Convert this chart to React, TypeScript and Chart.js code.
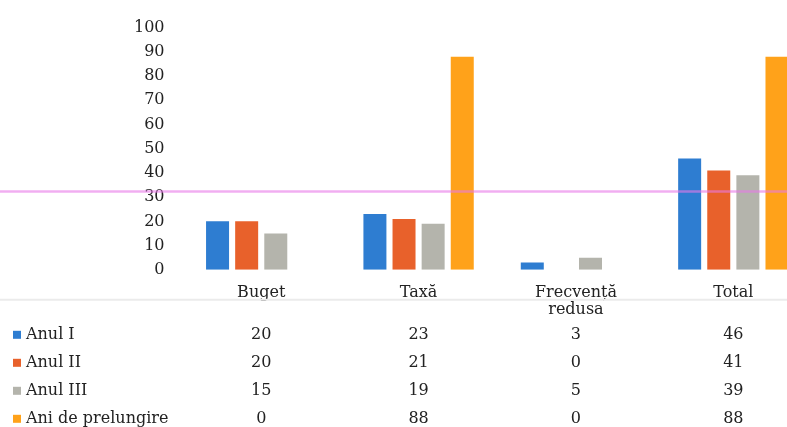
import React, { useEffect, useRef } from "react";
import { Chart, registerables } from "chart.js";

Chart.register(...registerables);

const categories: (string | string[])[] = ["Buget", "Taxă", ["Frecvență", "redusa"], "Total"];
const seriesNames = ["Anul I", "Anul II", "Anul III", "Ani de prelungire"];
const anulI = [20, 23, 3, 46];
const anulII = [20, 21, 0, 41];
const anulIII = [15, 19, 5, 39];
const aniPrelungire = [0, 88, 0, 88];
const seriesValues = [anulI, anulII, anulIII, aniPrelungire];
const seriesColors = ["#2E7DD1", "#E8612B", "#B4B4AC", "#FFA21A"];
const yMin = 0;
const yMax = 100;
const yStep = 10;
const scanLineValue = 32.3;

const FONT = '"DejaVu Serif", "Liberation Serif", serif';

const tablePlugin = {
  id: "dataTable",
  afterDatasetsDraw(chart: any) {
    const { ctx, scales } = chart;
    const y = scales.y;
    const ly = y.getPixelForValue(scanLineValue);
    ctx.save();
    ctx.strokeStyle = "rgba(232,120,232,0.6)";
    ctx.lineWidth = 2.5;
    ctx.beginPath();
    ctx.moveTo(0, ly);
    ctx.lineTo(chart.width, ly);
    ctx.stroke();
    ctx.restore();
  },
  afterDraw(chart: any) {
    const { ctx, chartArea, scales } = chart;
    const x = scales.x;
    const base = chartArea.bottom;
    ctx.save();
    ctx.strokeStyle = "#ebebeb";
    ctx.lineWidth = 2;
    ctx.beginPath();
    ctx.moveTo(0, base + 30);
    ctx.lineTo(chart.width, base + 30);
    ctx.stroke();

    ctx.font = "16px " + FONT;
    ctx.textBaseline = "middle";
    seriesNames.forEach((name, r) => {
      const ry = base + 65 + r * 28;
      ctx.fillStyle = seriesColors[r];
      ctx.fillRect(13, ry - 4, 8, 8);
      ctx.fillStyle = "#222222";
      ctx.textAlign = "left";
      ctx.fillText(name, 26, ry);
      ctx.textAlign = "center";
      seriesValues[r].forEach((v, i) => {
        ctx.fillText(String(v), x.getPixelForValue(i), ry);
      });
    });
    ctx.restore();
  },
};

export default function App() {
  const ref = useRef<HTMLCanvasElement | null>(null);
  useEffect(() => {
    if (!ref.current) return;
    const chart = new Chart(ref.current, {
      type: "bar",
      data: {
        labels: categories as any,
        datasets: seriesNames.map((name, i) => ({
          label: name,
          data: seriesValues[i],
          backgroundColor: seriesColors[i],
          borderWidth: 0,
          categoryPercentage: 0.74,
          barPercentage: 0.79,
        })),
      },
      options: {
        responsive: false,
        animation: false,
        devicePixelRatio: 1,
        layout: { padding: { left: 116, right: 0, top: 19, bottom: 94 } },
        plugins: {
          legend: { display: false },
          tooltip: { enabled: false },
        },
        scales: {
          x: {
            grid: { display: false, drawTicks: false },
            border: { display: false },
            ticks: {
              padding: 14,
              color: "#222222",
              font: { family: FONT, size: 16, lineHeight: 1.1 },
              maxRotation: 0,
              autoSkip: false,
            },
          },
          y: {
            min: yMin,
            max: yMax,
            grid: { display: false, drawTicks: false },
            border: { display: false },
            ticks: {
              stepSize: yStep,
              padding: 18,
              color: "#222222",
              font: { family: FONT, size: 16 },
            },
          },
        },
      },
      plugins: [tablePlugin],
    });
    return () => chart.destroy();
  }, []);
  return (
    <div style={{ position: "absolute", left: 0, top: 0, width: 787, height: 427, overflow: "hidden", background: "#fff" }}>
      <canvas ref={ref} width={812} height={427} style={{ display: "block" }} />
    </div>
  );
}
